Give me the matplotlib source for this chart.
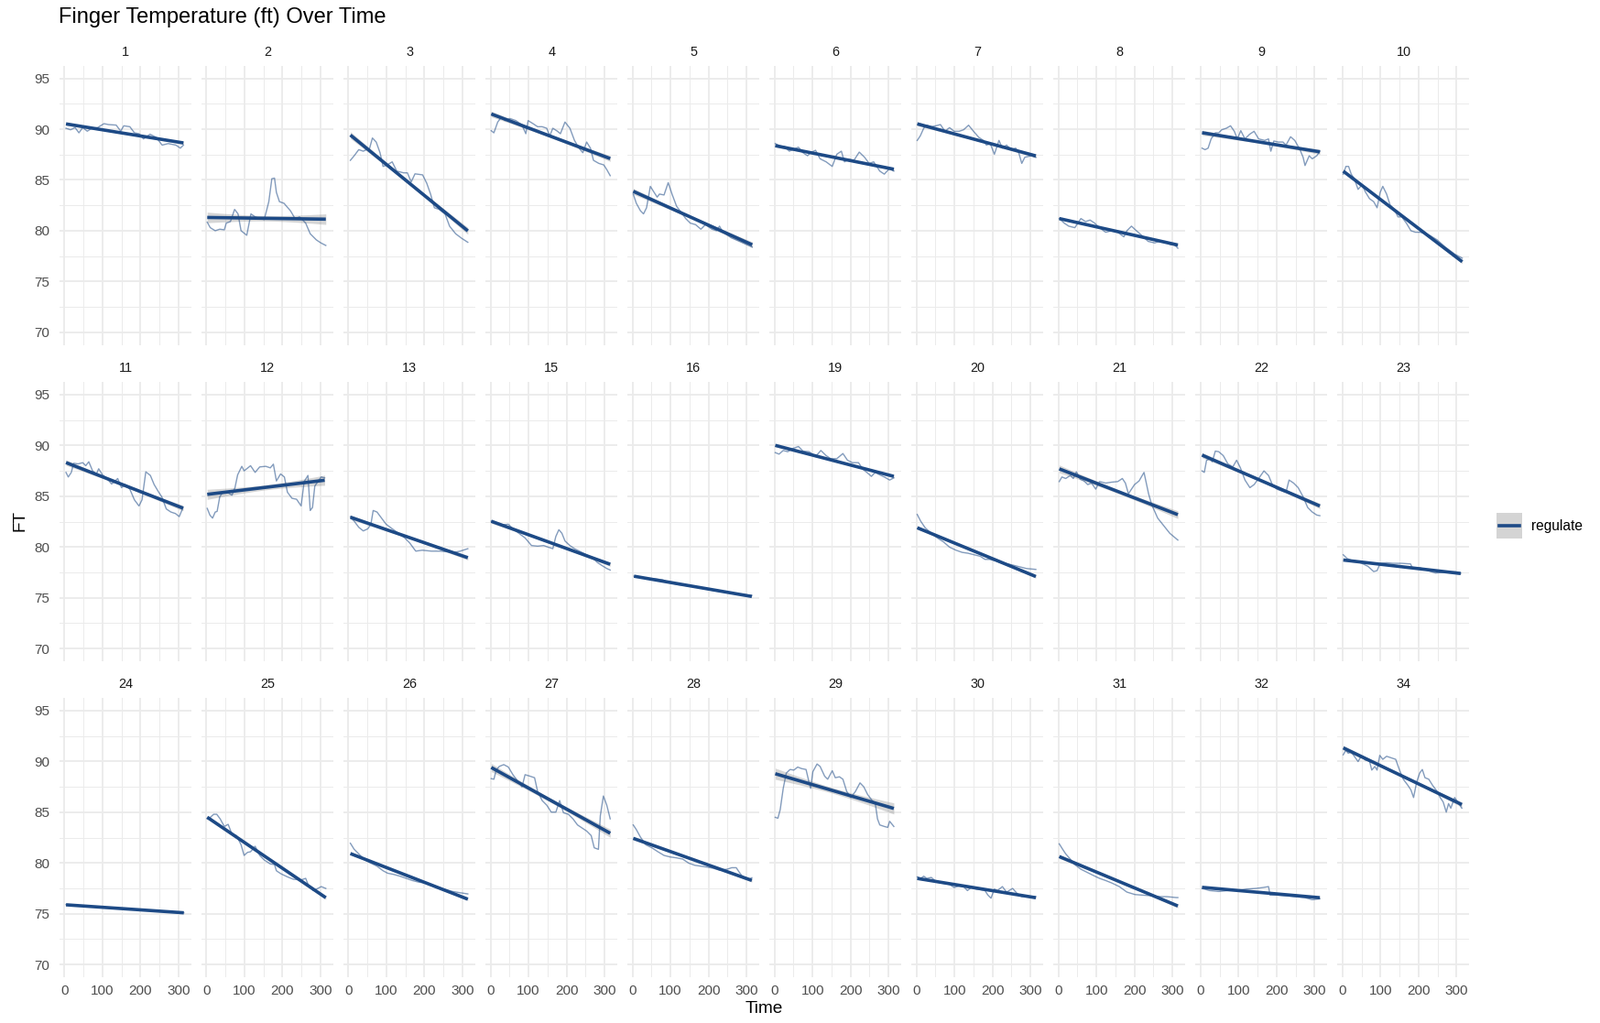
import numpy as np
import matplotlib.pyplot as plt
from matplotlib.patches import Rectangle
from matplotlib.lines import Line2D

plt.rcParams['font.family'] = ['Liberation Sans', 'DejaVu Sans']

# readings per subject (time in s, finger temperature)
time_01 = [4, 16, 28, 38, 48, 60, 72, 87, 104, 116, 136, 148, 156, 172, 184, 196, 208, 225, 241, 257, 273, 293, 305, 313]
ft_01 = [90.09, 89.94, 90.15, 89.64, 90.15, 89.8, 90.09, 90.15, 90.54, 90.45, 90.4, 89.8, 90.33, 90.24, 89.64, 89.55, 89.04, 89.5, 89.2, 88.43, 88.58, 88.43, 88.13, 88.43]
time_02 = [2, 10, 23, 35, 47, 52, 63, 74, 83, 91, 106, 117, 128, 140, 152, 164, 172, 179, 184, 192, 204, 221, 233, 245, 261, 273, 289, 301, 314]
ft_02 = [80.84, 80.3, 80.0, 80.15, 80.09, 80.75, 80.9, 82.1, 81.66, 80.0, 79.55, 81.66, 81.36, 81.2, 81.1, 82.86, 85.12, 85.18, 83.77, 82.86, 82.7, 81.96, 81.2, 81.36, 80.75, 79.7, 79.1, 78.8, 78.55]
time_03 = [5, 15, 27, 39, 47, 55, 63, 73, 83, 91, 102, 115, 127, 145, 155, 165, 175, 195, 206, 216, 226, 238, 254, 266, 282, 298, 314]
ft_03 = [86.93, 87.38, 87.98, 87.83, 87.98, 88.04, 89.13, 88.73, 87.68, 86.33, 86.48, 86.78, 85.87, 85.7, 85.7, 84.8, 85.6, 85.5, 84.67, 83.61, 82.26, 82.11, 81.66, 80.45, 79.7, 79.25, 78.86]
time_04 = [2, 9, 19, 28, 39, 51, 67, 83, 93, 99, 112, 124, 136, 148, 156, 164, 176, 184, 196, 209, 221, 233, 243, 253, 263, 271, 285, 298, 306, 315]
ft_04 = [89.85, 89.64, 90.7, 91.14, 90.84, 91.05, 90.84, 90.4, 89.55, 90.84, 90.54, 90.24, 90.24, 90.09, 89.34, 90.09, 89.8, 89.55, 90.7, 90.09, 88.89, 88.13, 87.68, 88.73, 88.13, 86.93, 86.63, 86.48, 86.02, 85.42]
time_05 = [2, 10, 21, 29, 37, 47, 57, 65, 71, 83, 94, 104, 116, 128, 140, 152, 166, 180, 192, 209, 221, 229, 237, 260, 285, 315]
ft_05 = [83.61, 82.71, 81.96, 81.66, 82.26, 84.37, 83.77, 83.31, 83.61, 83.52, 84.73, 83.61, 82.41, 81.81, 81.2, 80.75, 80.6, 80.15, 80.6, 80.15, 80.0, 80.45, 79.91, 79.3, 78.9, 78.4]
time_06 = [2, 15, 27, 39, 51, 63, 75, 87, 95, 108, 120, 136, 152, 164, 176, 184, 196, 209, 223, 237, 249, 261, 277, 289, 302, 314]
ft_06 = [88.58, 88.34, 88.28, 87.83, 88.04, 88.22, 87.68, 87.38, 87.68, 87.92, 87.08, 86.78, 86.33, 87.53, 87.83, 86.78, 87.02, 86.93, 87.74, 87.23, 86.63, 86.78, 85.87, 85.57, 86.11, 85.87]
time_07 = [2, 10, 19, 27, 39, 51, 63, 75, 87, 99, 112, 124, 137, 150, 164, 176, 184, 194, 205, 217, 226, 237, 249, 261, 269, 277, 285, 302, 314]
ft_07 = [88.89, 89.34, 90.09, 90.39, 90.24, 90.33, 90.45, 89.79, 90.15, 89.79, 89.79, 89.94, 90.39, 89.79, 89.19, 88.89, 88.43, 88.58, 87.53, 88.89, 88.13, 88.43, 87.98, 88.13, 87.68, 86.63, 87.23, 87.38, 87.23]
time_08 = [2, 15, 27, 43, 59, 71, 83, 95, 108, 124, 140, 156, 172, 180, 192, 205, 220, 236, 253, 265, 281, 294, 306, 314]
ft_08 = [81.2, 80.75, 80.45, 80.3, 81.2, 80.9, 81.05, 80.75, 80.3, 79.85, 80.0, 79.85, 79.4, 80.0, 80.45, 80.0, 79.5, 78.95, 78.8, 78.95, 78.95, 78.64, 78.58, 78.28]
time_09 = [4, 12, 20, 28, 39, 48, 56, 68, 79, 89, 97, 106, 117, 129, 141, 153, 169, 179, 185, 193, 205, 217, 225, 237, 248, 261, 270, 275, 286, 294, 306, 314]
ft_09 = [88.13, 87.98, 88.13, 89.04, 89.64, 89.64, 89.94, 90.09, 90.33, 89.79, 89.04, 89.85, 89.04, 89.49, 89.79, 89.04, 88.89, 89.04, 87.83, 88.83, 88.73, 88.73, 88.43, 89.25, 88.89, 88.04, 87.23, 86.42, 87.38, 87.08, 87.38, 87.83]
time_10 = [2, 9, 16, 23, 31, 41, 51, 61, 71, 82, 91, 99, 106, 116, 125, 136, 146, 156, 168, 180, 192, 205, 229, 249, 270, 295, 315]
ft_10 = [85.57, 86.33, 86.33, 85.57, 85.12, 84.07, 84.52, 83.77, 83.16, 82.86, 82.26, 83.77, 84.37, 83.61, 82.56, 82.11, 81.36, 81.36, 80.75, 80.0, 79.85, 79.85, 79.55, 79.1, 78.4, 77.7, 77.3]
time_11 = [4, 10, 18, 24, 36, 48, 56, 64, 74, 84, 90, 100, 112, 124, 132, 140, 150, 160, 172, 184, 196, 204, 214, 226, 236, 248, 256, 268, 280, 292, 302, 312]
ft_11 = [87.34, 86.89, 87.34, 88.24, 88.18, 88.3, 88.0, 88.39, 87.49, 87.19, 87.7, 87.1, 86.74, 86.2, 86.44, 86.74, 85.84, 86.14, 85.69, 84.64, 84.04, 84.64, 87.4, 87.04, 86.14, 85.39, 84.94, 83.74, 83.44, 83.29, 82.99, 83.89]
time_12 = [2, 9, 16, 23, 28, 35, 43, 55, 67, 75, 82, 93, 99, 116, 128, 140, 156, 168, 176, 184, 195, 205, 213, 225, 237, 249, 257, 267, 273, 279, 285, 293, 302, 311]
ft_12 = [83.8, 83.14, 82.84, 83.44, 83.5, 84.94, 85.39, 85.39, 85.09, 85.84, 87.1, 87.94, 87.49, 88.0, 87.34, 87.88, 87.94, 87.79, 88.15, 86.5, 87.19, 86.89, 85.39, 84.79, 84.7, 84.04, 86.44, 87.04, 83.59, 83.89, 85.99, 86.44, 86.89, 86.8]
time_13 = [5, 15, 27, 39, 51, 59, 65, 75, 87, 99, 115, 132, 148, 161, 177, 194, 218, 242, 258, 278, 294, 314]
ft_13 = [82.99, 82.54, 81.94, 81.58, 81.79, 82.24, 83.59, 83.44, 82.84, 82.24, 81.79, 81.34, 80.89, 80.4, 79.59, 79.68, 79.59, 79.59, 79.53, 79.47, 79.59, 79.83]
time_15 = [2, 16, 28, 47, 59, 75, 91, 108, 124, 140, 152, 164, 172, 180, 188, 196, 209, 221, 237, 253, 269, 281, 293, 306, 315]
ft_15 = [82.54, 82.39, 82.18, 82.24, 81.79, 81.34, 80.89, 80.14, 80.08, 80.14, 79.98, 79.83, 81.04, 81.7, 81.34, 80.59, 80.14, 79.83, 79.53, 79.23, 78.93, 78.48, 78.18, 77.88, 77.73]
time_16 = [4, 31, 55, 79, 99, 120, 144, 168, 192, 217, 241, 265, 289, 314]
ft_16 = [77.13, 76.92, 76.89, 76.77, 76.47, 76.29, 76.17, 76.05, 75.86, 75.68, 75.56, 75.44, 75.32, 75.23]
time_19 = [2, 12, 23, 35, 47, 63, 75, 91, 108, 122, 136, 148, 164, 180, 192, 205, 221, 233, 245, 255, 265, 277, 289, 303, 314]
ft_19 = [89.29, 89.14, 89.5, 89.38, 89.68, 89.89, 89.44, 89.38, 88.9, 89.5, 88.99, 88.69, 88.69, 89.2, 88.54, 88.3, 88.3, 87.64, 87.28, 86.95, 87.34, 87.1, 86.89, 86.59, 86.8]
time_20 = [2, 11, 23, 39, 55, 71, 87, 104, 120, 136, 152, 168, 180, 192, 209, 225, 241, 257, 273, 289, 314]
ft_20 = [83.2, 82.54, 81.88, 81.34, 80.89, 80.5, 79.98, 79.68, 79.47, 79.38, 79.23, 79.08, 78.78, 78.78, 78.63, 78.39, 78.33, 78.18, 78.03, 77.88, 77.79]
time_21 = [2, 9, 19, 31, 39, 47, 57, 67, 77, 87, 98, 108, 124, 140, 156, 168, 176, 184, 200, 212, 225, 237, 245, 261, 277, 293, 314]
ft_21 = [86.44, 86.89, 86.74, 87.04, 86.74, 87.4, 86.68, 86.5, 86.14, 86.29, 85.69, 86.44, 86.29, 86.38, 86.44, 86.74, 86.29, 85.24, 86.14, 86.5, 87.34, 85.24, 84.19, 82.84, 82.09, 81.34, 80.68]
time_22 = [4, 10, 16, 26, 31, 39, 48, 60, 72, 85, 95, 105, 117, 130, 141, 153, 167, 179, 189, 201, 216, 225, 233, 245, 257, 270, 282, 294, 306, 314]
ft_22 = [87.49, 87.34, 88.54, 88.69, 88.39, 89.44, 89.38, 88.99, 88.18, 87.88, 88.54, 87.79, 86.59, 85.84, 86.14, 86.74, 87.49, 87.04, 86.14, 85.69, 85.48, 85.39, 86.59, 86.29, 85.84, 84.94, 83.89, 83.44, 83.14, 83.08]
time_23 = [2, 12, 23, 35, 51, 67, 82, 91, 99, 116, 132, 156, 179, 184, 205, 225, 245, 261, 277, 298, 311]
ft_23 = [79.23, 78.87, 78.69, 78.63, 78.39, 78.09, 77.58, 77.67, 78.39, 78.45, 78.39, 78.39, 78.33, 77.94, 77.94, 77.67, 77.43, 77.49, 77.55, 77.55, 77.43]
time_24 = [4, 30, 55, 80, 105, 130, 155, 180, 205, 230, 255, 280, 300, 314]
ft_24 = [75.9, 75.82, 75.75, 75.66, 75.63, 75.55, 75.47, 75.44, 75.36, 75.31, 75.22, 75.2, 75.13, 75.1]
time_25 = [2, 10, 19, 27, 36, 47, 57, 67, 79, 91, 99, 108, 116, 128, 140, 152, 168, 179, 184, 196, 213, 229, 249, 261, 269, 281, 293, 302, 314]
ft_25 = [84.34, 84.49, 84.79, 84.79, 84.34, 83.59, 83.8, 82.84, 82.69, 81.79, 80.74, 81.04, 81.1, 81.64, 80.74, 80.29, 79.9, 79.84, 79.23, 78.93, 78.63, 78.39, 78.33, 78.48, 77.73, 77.28, 77.49, 77.67, 77.49]
time_26 = [5, 15, 27, 43, 59, 75, 91, 103, 119, 136, 152, 168, 186, 202, 226, 250, 274, 298, 314]
ft_26 = [81.94, 81.34, 80.89, 80.29, 79.98, 79.68, 79.23, 78.99, 78.87, 78.69, 78.48, 78.27, 78.1, 78.03, 77.67, 77.43, 77.19, 77.04, 76.95]
time_27 = [2, 9, 15, 23, 35, 47, 59, 71, 83, 91, 104, 116, 124, 136, 148, 160, 172, 182, 192, 205, 217, 229, 241, 253, 265, 273, 284, 289, 297, 306, 315]
ft_27 = [88.3, 88.24, 89.14, 89.5, 89.68, 89.44, 88.69, 88.09, 87.49, 88.69, 88.54, 88.39, 87.04, 86.14, 85.69, 85.0, 85.0, 86.14, 84.94, 84.79, 84.34, 83.74, 83.44, 83.14, 82.69, 81.49, 81.34, 84.64, 86.59, 85.69, 84.34]
time_28 = [2, 10, 21, 35, 51, 67, 83, 99, 116, 132, 148, 164, 180, 196, 213, 229, 249, 261, 273, 281, 293, 306, 314]
ft_28 = [83.74, 83.29, 82.54, 81.79, 81.49, 81.1, 80.74, 80.59, 80.5, 80.38, 79.98, 79.77, 79.68, 79.59, 79.47, 79.29, 79.38, 79.53, 79.53, 79.08, 78.48, 78.39, 78.54]
time_29 = [2, 9, 15, 23, 31, 41, 51, 61, 71, 83, 90, 95, 101, 112, 120, 132, 140, 152, 160, 171, 180, 190, 201, 213, 225, 235, 245, 257, 265, 271, 277, 289, 298, 303, 314]
ft_29 = [84.49, 84.4, 85.24, 87.34, 88.84, 89.2, 89.14, 89.44, 89.29, 89.2, 88.09, 87.34, 88.99, 89.74, 89.5, 88.54, 88.24, 89.08, 88.39, 88.48, 88.24, 87.04, 86.44, 87.04, 87.88, 87.49, 86.74, 86.14, 85.9, 84.34, 83.74, 83.59, 83.5, 84.1, 83.59]
time_30 = [2, 11, 19, 27, 39, 51, 63, 75, 87, 99, 112, 124, 134, 144, 156, 168, 180, 188, 196, 205, 213, 226, 237, 253, 265, 277, 289, 302, 314]
ft_30 = [78.63, 78.48, 78.69, 78.48, 78.57, 78.18, 78.03, 77.97, 77.88, 77.58, 77.73, 77.67, 77.28, 77.58, 77.43, 77.37, 77.28, 76.83, 76.53, 77.43, 77.28, 77.67, 77.13, 77.49, 76.98, 76.68, 76.77, 76.68, 76.68]
time_31 = [2, 11, 19, 31, 43, 59, 75, 91, 108, 124, 140, 160, 180, 201, 221, 245, 269, 285, 310, 314]
ft_31 = [81.88, 81.34, 80.89, 80.38, 79.83, 79.38, 79.08, 78.78, 78.48, 78.27, 78.03, 77.67, 77.13, 76.89, 76.83, 76.77, 76.68, 76.68, 76.59, 76.59]
time_32 = [4, 24, 48, 72, 97, 121, 145, 165, 179, 183, 201, 225, 249, 274, 294, 314]
ft_32 = [77.49, 77.28, 77.19, 77.28, 77.28, 77.43, 77.49, 77.58, 77.67, 76.83, 76.83, 76.77, 76.68, 76.59, 76.38, 76.47]
time_34 = [2, 9, 15, 23, 31, 41, 49, 61, 71, 77, 85, 91, 98, 106, 116, 128, 140, 150, 160, 172, 180, 187, 195, 203, 210, 217, 227, 237, 249, 257, 265, 273, 279, 285, 295, 303, 314]
ft_34 = [90.65, 91.1, 90.8, 90.95, 90.5, 89.98, 90.5, 90.11, 90.05, 89.14, 89.5, 89.14, 90.59, 90.2, 90.5, 90.35, 90.2, 89.14, 88.24, 87.64, 87.19, 86.44, 87.94, 88.84, 89.2, 88.39, 88.24, 87.64, 87.04, 86.44, 85.99, 85.0, 85.84, 85.39, 86.44, 85.99, 85.39]

subjects = [
    (1, time_01, ft_01), (2, time_02, ft_02), (3, time_03, ft_03), (4, time_04, ft_04),
    (5, time_05, ft_05), (6, time_06, ft_06), (7, time_07, ft_07), (8, time_08, ft_08),
    (9, time_09, ft_09), (10, time_10, ft_10), (11, time_11, ft_11), (12, time_12, ft_12),
    (13, time_13, ft_13), (15, time_15, ft_15), (16, time_16, ft_16), (19, time_19, ft_19),
    (20, time_20, ft_20), (21, time_21, ft_21), (22, time_22, ft_22), (23, time_23, ft_23),
    (24, time_24, ft_24), (25, time_25, ft_25), (26, time_26, ft_26), (27, time_27, ft_27),
    (28, time_28, ft_28), (29, time_29, ft_29), (30, time_30, ft_30), (31, time_31, ft_31),
    (32, time_32, ft_32), (34, time_34, ft_34),
]
n_obs = 160  # samples per recording, for the lm confidence band

W, H = 1747, 1117
fig = plt.figure(figsize=(W / 100, H / 100), dpi=100)

line_col = '#1d4a86'
grid_col = '#ebebeb'
row_tops = [71.7, 417, 762]
pw, ph, step = 144, 305, 155.05

for k, (sid, t, ft) in enumerate(subjects):
    r, c = divmod(k, 10)
    ax = fig.add_axes([(65 + c * step) / W, 1 - (row_tops[r] + ph) / H, pw / W, ph / H])
    t = np.array(t, dtype=float)
    ft = np.array(ft, dtype=float)

    # linear fit + 95% band (like geom_smooth(method="lm"))
    slope, icpt = np.polyfit(t, ft, 1)
    xs = np.linspace(t.min(), t.max(), 100)
    fit = icpt + slope * xs
    resid = ft - (icpt + slope * t)
    sigma = np.sqrt(np.sum(resid ** 2) / (len(t) - 2))
    tu = np.linspace(t.min(), t.max(), n_obs)
    sxx = np.sum((tu - tu.mean()) ** 2)
    se = sigma * np.sqrt(1 / n_obs + (xs - tu.mean()) ** 2 / sxx)
    ax.fill_between(xs, fit - 1.97 * se, fit + 1.97 * se, color='#999999', alpha=0.4, lw=0, zorder=2)
    ax.plot(t, ft, color=line_col, alpha=0.55, lw=1.0, zorder=3)
    ax.plot(xs, fit, color=line_col, lw=2.6, solid_capstyle='butt', zorder=4)

    ax.set_xlim(-13, 334)
    ax.set_ylim(68.75, 96.25)
    ax.set_xticks([0, 100, 200, 300])
    ax.set_xticks([50, 150, 250], minor=True)
    ax.set_yticks([70, 75, 80, 85, 90, 95])
    ax.set_yticks([72.5, 77.5, 82.5, 87.5, 92.5], minor=True)
    ax.grid(which='major', color=grid_col, lw=1.3)
    ax.grid(which='minor', color=grid_col, lw=0.7)
    ax.set_axisbelow(True)
    for s in ax.spines.values():
        s.set_visible(False)
    ax.tick_params(which='both', length=0, labelsize=11, labelcolor='#4d4d4d')
    ax.tick_params(axis='y', pad=8)
    ax.tick_params(axis='x', pad=6)
    if c != 0:
        ax.tick_params(labelleft=False)
    if r != 2:
        ax.tick_params(labelbottom=False)
    ax.text(0.5, 1 + 15 / ph, str(sid), transform=ax.transAxes, ha='center', va='center',
            fontsize=10.4, color='#1a1a1a')

fig.text(63.5 / W, 1 - 19 / H, 'Finger Temperature (ft) Over Time', fontsize=17,
         ha='left', va='center', color='black')
fig.text(834 / W, 1 - 1101 / H, 'Time', fontsize=13.7, ha='center', va='center')
fig.text(22 / W, 1 - 569 / H, 'FT', fontsize=13.7, ha='center', va='center', rotation=90)

# legend
fig.add_artist(Rectangle((1634 / W, 1 - 588 / H), 28 / W, 28 / H, transform=fig.transFigure,
                         facecolor='#d4d4d4', edgecolor='none'))
fig.add_artist(Line2D([1637 / W, 1659 / W], [1 - 574 / H, 1 - 574 / H], transform=fig.transFigure,
                      color=line_col, lw=2.6))
fig.text(1672 / W, 1 - 575 / H, 'regulate', fontsize=11.2, ha='left', va='center')

fig.savefig('out.png', dpi=100)
